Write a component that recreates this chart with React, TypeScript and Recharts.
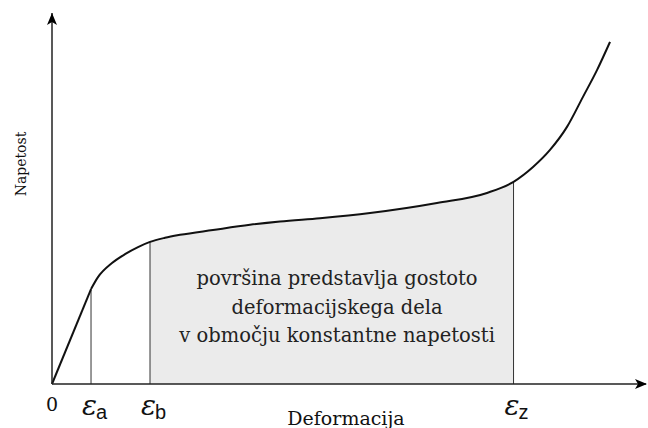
import * as React from "react";
import {
  ComposedChart,
  Line,
  Area,
  XAxis,
  YAxis,
  ReferenceLine,
  ReferenceDot,
} from "recharts";

// strain (x) and stress (y), both in 0..100 chart units
const strain = [0, 6.57, 7.74, 10.1, 12.29, 14.48, 16.5, 19.02, 21.55, 27.1, 33.33, 38.38, 45.12, 53.54, 64.81, 73.23, 77.7, 80.98, 83.84, 86.7, 89.39, 91.75, 93.94];
const stress = [0, 25.6, 28.8, 32.6, 35.0, 36.9, 38.3, 39.4, 40.2, 41.5, 42.9, 43.8, 44.7, 46.1, 48.8, 51.5, 54.5, 58.5, 63.1, 69.3, 77.4, 84.6, 92.2];

const epsA = strain[1];
const epsB = strain[6];
const epsZ = strain[16];

const tickValues = [0, epsA, epsB, epsZ];
const tickSubs = ["", "a", "b", "z"];

const areaNote = [
  "površina predstavlja gostoto",
  "deformacijskega dela",
  "v območju konstantne napetosti",
];

const rows = strain.map((x, i) => ({
  x,
  elastic: x <= epsA ? stress[i] : null,
  curve: x >= epsA ? stress[i] : null,
  shade: x >= epsB && x <= epsZ ? stress[i] : null,
}));

const stressAt = (x: number) => stress[strain.indexOf(x)];

const SERIF = "'DejaVu Serif', serif";
const SANS = "'Liberation Sans', Arial, sans-serif";

function StrainTick(props: any) {
  const { x, y, index } = props;
  const sub = tickSubs[index];
  if (!sub) {
    return (
      <text x={x} y={y + 19} textAnchor="middle" fontFamily={SERIF} fontSize={19} fill="#111">
        0
      </text>
    );
  }
  return (
    <text x={x - 9} y={y + 23} fontFamily={SERIF} fill="#111">
      <tspan fontSize={28} fontStyle="italic">ε</tspan>
      <tspan fontFamily={SANS} fontSize={20} dx={-1} dy={4}>
        {sub}
      </tspan>
    </text>
  );
}

export default function App() {
  return (
    <div style={{ position: "absolute", left: 0, top: 0, width: 648, height: 428, background: "#fff" }}>
      <ComposedChart
        width={648}
        height={428}
        data={rows}
        margin={{ top: 13, right: 2, bottom: 0, left: 0 }}
      >
        <XAxis
          dataKey="x"
          type="number"
          domain={[0, 100]}
          ticks={tickValues}
          tick={<StrainTick />}
          tickLine={false}
          axisLine={{ stroke: "#222", strokeWidth: 1.5 }}
          height={44}
          interval={0}
          label={(p: any) => (
            <text
              x={p.viewBox.x + p.viewBox.width / 2 - 3}
              y={p.viewBox.y + 41}
              textAnchor="middle"
              fontFamily={SERIF}
              fontSize={19}
              fill="#111"
            >
              Deformacija
            </text>
          )}
        />
        <YAxis
          type="number"
          domain={[0, 100]}
          width={52}
          tick={false}
          tickLine={false}
          axisLine={{ stroke: "#222", strokeWidth: 1.5 }}
          label={() => (
            <text
              x={22}
              y={164}
              transform="rotate(-90 22 164)"
              textAnchor="middle"
              dominantBaseline="middle"
              fontFamily={SERIF}
              fontSize={14}
              fill="#111"
            >
              Napetost
            </text>
          )}
        />
        <Area
          dataKey="shade"
          type="monotone"
          fill="#ebebeb"
          fillOpacity={1}
          stroke="none"
          isAnimationActive={false}
        />
        {[epsA, epsB, epsZ].map((e) => (
          <ReferenceLine
            key={e}
            segment={[
              { x: e, y: 0 },
              { x: e, y: stressAt(e) },
            ]}
            stroke="#333"
            strokeWidth={1}
          />
        ))}
        <ReferenceDot
          x={48}
          y={19.1}
          r={0}
          shape={(p: any) => (
            <text x={p.cx} y={p.cy} textAnchor="middle" fontFamily={SERIF} fontSize={19.5} fill="#222">
              {areaNote.map((t, i) => (
                <tspan key={i} x={p.cx} dy={i === 0 ? -28 : 28.5}>
                  {t}
                </tspan>
              ))}
            </text>
          )}
        />
        <Line dataKey="elastic" type="linear" stroke="#111" strokeWidth={2} dot={false} isAnimationActive={false} />
        <Line dataKey="curve" type="monotone" stroke="#111" strokeWidth={2} dot={false} isAnimationActive={false} />
        <ReferenceDot
          x={100}
          y={0}
          r={0}
          ifOverflow="visible"
          shape={(p: any) => (
            <path d={`M${p.cx + 1},${p.cy} L${p.cx - 11},${p.cy - 5} L${p.cx - 8},${p.cy} L${p.cx - 11},${p.cy + 5} Z`} fill="#000" />
          )}
        />
        <ReferenceDot
          x={0}
          y={100}
          r={0}
          ifOverflow="visible"
          shape={(p: any) => (
            <path d={`M${p.cx},${p.cy} L${p.cx - 5},${p.cy + 12} L${p.cx},${p.cy + 9} L${p.cx + 5},${p.cy + 12} Z`} fill="#000" />
          )}
        />
      </ComposedChart>
    </div>
  );
}
